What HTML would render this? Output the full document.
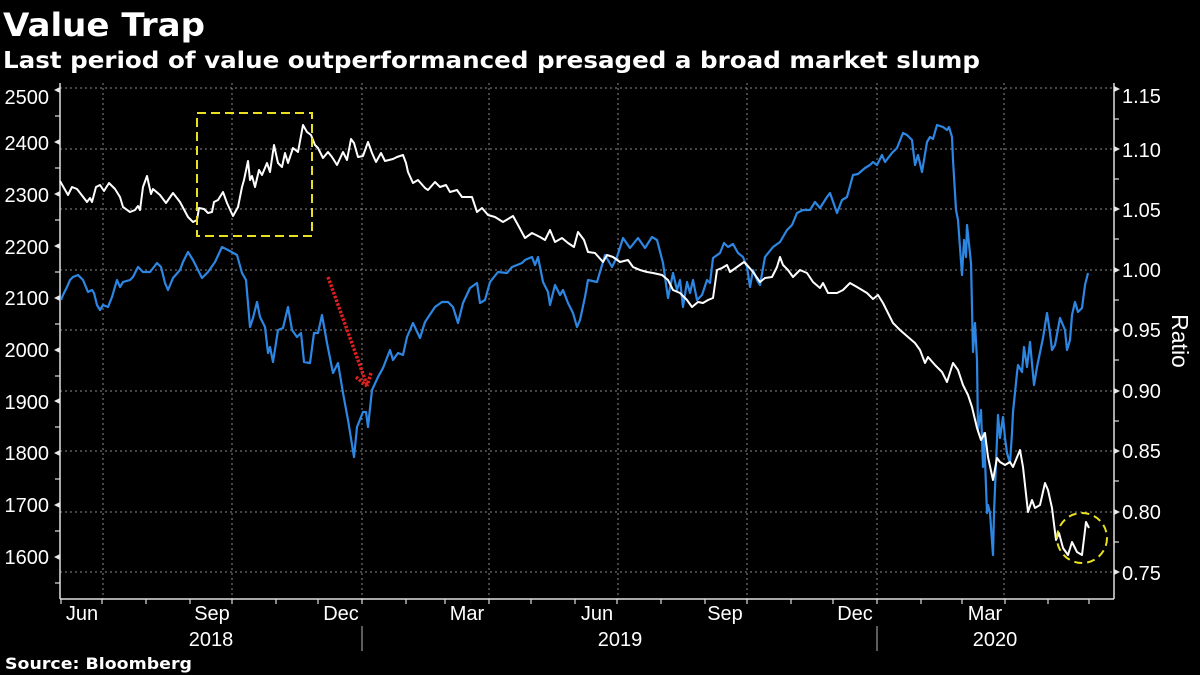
<!DOCTYPE html>
<html><head><meta charset="utf-8"><style>
html,body{margin:0;padding:0;background:#000;}
svg{display:block;}
</style></head><body>
<svg width="1200" height="675" viewBox="0 0 1200 675" xmlns="http://www.w3.org/2000/svg">
<rect width="1200" height="675" fill="#000"/>
<text x="3" y="36" font-family="DejaVu Sans, Liberation Sans, sans-serif" font-weight="bold" font-size="32" fill="#fff" textLength="202" lengthAdjust="spacingAndGlyphs">Value Trap</text>
<text x="3" y="68" font-family="DejaVu Sans, Liberation Sans, sans-serif" font-weight="bold" font-size="23" fill="#fff" textLength="977" lengthAdjust="spacingAndGlyphs">Last period of value outperformanced presaged a broad market slump</text>

<g stroke="#8a8a8a" stroke-width="1" stroke-dasharray="2,3" fill="none">
<line x1="60" y1="88" x2="1114" y2="88"/>
<line x1="60" y1="149" x2="1114" y2="149"/>
<line x1="60" y1="209" x2="1114" y2="209"/>
<line x1="60" y1="270" x2="1114" y2="270"/>
<line x1="60" y1="330" x2="1114" y2="330"/>
<line x1="60" y1="391" x2="1114" y2="391"/>
<line x1="60" y1="451" x2="1114" y2="451"/>
<line x1="60" y1="512" x2="1114" y2="512"/>
<line x1="60" y1="572" x2="1114" y2="572"/>
<line x1="103" y1="83" x2="103" y2="599"/>
<line x1="232" y1="83" x2="232" y2="599"/>
<line x1="362" y1="83" x2="362" y2="599"/>
<line x1="489" y1="83" x2="489" y2="599"/>
<line x1="618" y1="83" x2="618" y2="599"/>
<line x1="747" y1="83" x2="747" y2="599"/>
<line x1="877" y1="83" x2="877" y2="599"/>
<line x1="1004" y1="83" x2="1004" y2="599"/>
</g>

<g stroke="#e0e0e0" stroke-width="1.5" fill="none">
<line x1="60" y1="83" x2="60" y2="599"/>
<line x1="1114" y1="83" x2="1114" y2="599"/>
<line x1="60" y1="599" x2="1114" y2="599"/>
</g>
<g stroke="#e0e0e0" stroke-width="1.2">
<line x1="55" y1="116" x2="60" y2="116"/><line x1="55" y1="168" x2="60" y2="168"/><line x1="55" y1="220" x2="60" y2="220"/><line x1="55" y1="272" x2="60" y2="272"/><line x1="55" y1="324" x2="60" y2="324"/><line x1="55" y1="376" x2="60" y2="376"/><line x1="55" y1="427" x2="60" y2="427"/><line x1="55" y1="479" x2="60" y2="479"/><line x1="55" y1="531" x2="60" y2="531"/><line x1="55" y1="583" x2="60" y2="583"/>
<line x1="1114" y1="119" x2="1119" y2="119"/><line x1="1114" y1="179" x2="1119" y2="179"/><line x1="1114" y1="239" x2="1119" y2="239"/><line x1="1114" y1="300" x2="1119" y2="300"/><line x1="1114" y1="360" x2="1119" y2="360"/><line x1="1114" y1="421" x2="1119" y2="421"/><line x1="1114" y1="481" x2="1119" y2="481"/><line x1="1114" y1="542" x2="1119" y2="542"/>
</g>
<g fill="#e8e8e8">
<polygon points="54,90 60,87 60,93"/><polygon points="54,142 60,139 60,145"/><polygon points="54,194 60,191 60,197"/><polygon points="54,246 60,243 60,249"/><polygon points="54,298 60,295 60,301"/><polygon points="54,350 60,347 60,353"/><polygon points="54,401 60,398 60,404"/><polygon points="54,453 60,450 60,456"/><polygon points="54,505 60,502 60,508"/><polygon points="54,557 60,554 60,560"/>
<polygon points="1120,89 1114,86 1114,92"/><polygon points="1120,149 1114,146 1114,152"/><polygon points="1120,209 1114,206 1114,212"/><polygon points="1120,270 1114,267 1114,273"/><polygon points="1120,330 1114,327 1114,333"/><polygon points="1120,391 1114,388 1114,394"/><polygon points="1120,451 1114,448 1114,454"/><polygon points="1120,512 1114,509 1114,515"/><polygon points="1120,572 1114,569 1114,575"/>
</g>
<g font-family="Liberation Sans, sans-serif" font-size="20" fill="#fff" text-anchor="end">
<text x="49" y="104">2500</text><text x="49" y="150">2400</text><text x="49" y="202">2300</text><text x="49" y="254">2200</text><text x="49" y="305">2100</text><text x="49" y="357">2000</text><text x="49" y="409">1900</text><text x="49" y="460">1800</text><text x="49" y="512">1700</text><text x="49" y="564">1600</text>
</g>
<g font-family="Liberation Sans, sans-serif" font-size="20" fill="#fff" text-anchor="start">
<text x="1122" y="103">1.15</text><text x="1122" y="157">1.10</text><text x="1122" y="217">1.05</text><text x="1122" y="277">1.00</text><text x="1122" y="337">0.95</text><text x="1122" y="398">0.90</text><text x="1122" y="458">0.85</text><text x="1122" y="519">0.80</text><text x="1122" y="580">0.75</text>
</g>
<text transform="translate(1172,341) rotate(90)" font-family="Liberation Sans, sans-serif" font-size="23" fill="#fff" text-anchor="middle">Ratio</text>

<g stroke="#e0e0e0" stroke-width="1.2">
<line x1="61" y1="599" x2="61" y2="604"/><line x1="102" y1="599" x2="102" y2="604"/><line x1="146" y1="599" x2="146" y2="604"/><line x1="190" y1="599" x2="190" y2="604"/><line x1="232" y1="599" x2="232" y2="604"/><line x1="276" y1="599" x2="276" y2="604"/><line x1="318" y1="599" x2="318" y2="604"/><line x1="362" y1="599" x2="362" y2="604"/><line x1="406" y1="599" x2="406" y2="604"/><line x1="445" y1="599" x2="445" y2="604"/><line x1="489" y1="599" x2="489" y2="604"/><line x1="531" y1="599" x2="531" y2="604"/><line x1="575" y1="599" x2="575" y2="604"/><line x1="617" y1="599" x2="617" y2="604"/><line x1="661" y1="599" x2="661" y2="604"/><line x1="705" y1="599" x2="705" y2="604"/><line x1="747" y1="599" x2="747" y2="604"/><line x1="791" y1="599" x2="791" y2="604"/><line x1="833" y1="599" x2="833" y2="604"/><line x1="877" y1="599" x2="877" y2="604"/><line x1="921" y1="599" x2="921" y2="604"/><line x1="962" y1="599" x2="962" y2="604"/><line x1="1005" y1="599" x2="1005" y2="604"/><line x1="1048" y1="599" x2="1048" y2="604"/><line x1="1089" y1="599" x2="1089" y2="604"/>
</g>
<g stroke="#9a9a9a" stroke-width="1.2">
<line x1="362" y1="626" x2="362" y2="651"/><line x1="877" y1="626" x2="877" y2="651"/>
</g>
<g font-family="Liberation Sans, sans-serif" font-size="20" fill="#fff" text-anchor="middle">
<text x="82" y="620">Jun</text><text x="212" y="620">Sep</text><text x="341" y="620">Dec</text><text x="467" y="620">Mar</text><text x="597" y="620">Jun</text><text x="725" y="620">Sep</text><text x="855" y="620">Dec</text><text x="985" y="620">Mar</text>
<text x="211" y="646">2018</text><text x="620" y="646">2019</text><text x="995" y="646">2020</text>
</g>
<text x="5" y="669" font-family="DejaVu Sans, Liberation Sans, sans-serif" font-weight="bold" font-size="16" fill="#fff" textLength="187" lengthAdjust="spacingAndGlyphs">Source: Bloomberg</text>

<polyline fill="none" stroke="#2d86e2" stroke-width="2.2" stroke-linejoin="round" points="61,300 63,295 67,287 70,280 73,277 78,275 83,280 88,292 92,290 94,293 97,305 100,310 103,305 108,307 112,297 117,280 120,287 123,282 130,280 133,277 138,267 143,272 150,272 157,263 161,267 165,283 168,290 173,278 180,270 183,262 188,252 193,260 202,278 208,272 215,262 222,247 228,250 237,255 242,273 246,280 250,327 253,318 257,302 260,317 265,327 268,353 270,347 273,362 278,330 283,328 288,307 292,330 297,337 301,333 304,362 310,363 314,333 318,333 322,315 327,343 333,373 338,363 343,393 348,420 354,457 357,427 363,412 366,412 368,427 372,390 378,377 383,368 390,350 393,360 398,353 403,355 407,337 413,323 420,338 425,322 435,307 442,302 448,302 453,307 458,323 463,303 470,288 477,283 480,303 485,300 490,282 498,272 507,273 512,267 522,263 525,260 532,257 535,265 538,257 543,282 548,292 550,305 555,285 560,295 563,290 568,303 573,313 577,327 580,320 585,297 588,280 597,282 605,255 612,267 617,257 623,238 630,248 638,238 645,248 652,237 657,240 663,263 668,298 673,273 677,290 680,280 683,307 687,282 690,293 693,280 697,300 702,295 707,280 710,283 713,258 720,253 724,243 728,247 733,244 738,253 743,257 747,267 750,287 753,270 757,280 760,285 765,257 773,247 780,242 787,230 792,225 797,213 803,210 810,210 815,202 820,208 827,197 830,193 837,213 842,200 847,197 853,175 858,174 865,168 870,165 873,162 877,165 882,155 885,162 892,153 897,148 903,133 907,135 912,140 915,165 918,155 922,172 927,142 930,137 933,139 937,125 943,127 947,130 949,127 952,137 953,160 956,210 958,220 962,275 964,240 966,257 967,225 971,263 973,352 975,323 977,360 978,430 981,410 983,467 984,433 987,513 988,505 990,513 993,555 994,513 998,415 1000,438 1003,417 1005,438 1007,453 1010,463 1012,433 1013,412 1017,373 1018,365 1022,372 1024,347 1027,367 1030,342 1034,385 1037,367 1043,338 1047,313 1050,333 1052,350 1055,345 1060,318 1065,330 1067,350 1070,340 1072,315 1075,302 1078,312 1082,308 1085,285 1088,273"/>

<polyline fill="none" stroke="#ffffff" stroke-width="2" stroke-linejoin="round" points="60,181 68,195 72,187 77,189 87,202 90,198 92,202 96,187 100,185 104,191 109,183 115,189 120,197 123,207 130,212 135,210 138,206 140,210 143,187 147,176 151,194 153,189 160,195 166,203 173,193 180,202 188,217 193,222 197,220 199,208 204,209 208,213 212,212 214,202 218,200 223,192 227,203 233,216 238,207 242,187 244,180 248,161 250,180 252,176 255,187 259,170 262,175 267,163 270,172 274,145 278,163 282,167 285,153 288,163 293,148 298,152 303,125 307,132 311,135 315,145 318,148 323,158 328,152 332,157 337,165 343,152 347,160 351,139 354,143 358,157 363,156 368,142 372,153 376,162 381,153 385,161 393,159 397,157 403,155 406,163 408,172 413,183 418,180 425,188 428,190 435,182 440,187 446,185 450,192 457,190 462,197 472,197 477,212 482,208 488,215 495,217 503,222 513,216 518,225 525,238 532,233 540,237 545,240 550,230 555,242 562,238 568,243 574,247 578,232 584,240 588,252 595,253 603,262 607,255 613,257 620,262 628,260 633,267 640,270 647,272 653,273 662,275 668,280 673,290 680,293 687,300 692,307 698,302 703,303 708,300 713,298 717,270 722,268 727,265 730,272 737,267 744,262 747,265 753,272 760,282 765,278 772,277 777,267 780,257 783,265 788,270 793,277 800,270 807,273 813,282 820,288 823,283 828,293 837,293 843,290 850,283 857,287 867,293 873,299 878,295 883,303 893,323 900,330 908,337 915,343 920,350 925,363 928,357 935,365 942,372 947,382 953,363 958,370 963,385 968,395 972,407 977,428 981,440 985,433 988,457 993,480 997,458 1000,462 1005,465 1010,462 1013,467 1020,450 1023,467 1028,512 1032,500 1035,508 1040,505 1045,483 1048,490 1052,508 1056,540 1059,533 1063,548 1068,555 1072,542 1077,552 1082,555 1086,522 1089,528"/>

<rect x="197" y="113" width="115" height="123" fill="none" stroke="#e8e020" stroke-width="2" stroke-dasharray="9,5"/>
<ellipse cx="1082" cy="538" rx="25" ry="25" fill="none" stroke="#e8e020" stroke-width="2" stroke-dasharray="8,5"/>
<g stroke="#e0201c" stroke-width="3.5" stroke-dasharray="2.5,1.5" fill="none">
<line x1="328" y1="277" x2="367" y2="385"/>
<line x1="356" y1="377" x2="367" y2="386"/>
<line x1="371" y1="373" x2="367" y2="386"/>
</g>
</svg>
</body></html>
